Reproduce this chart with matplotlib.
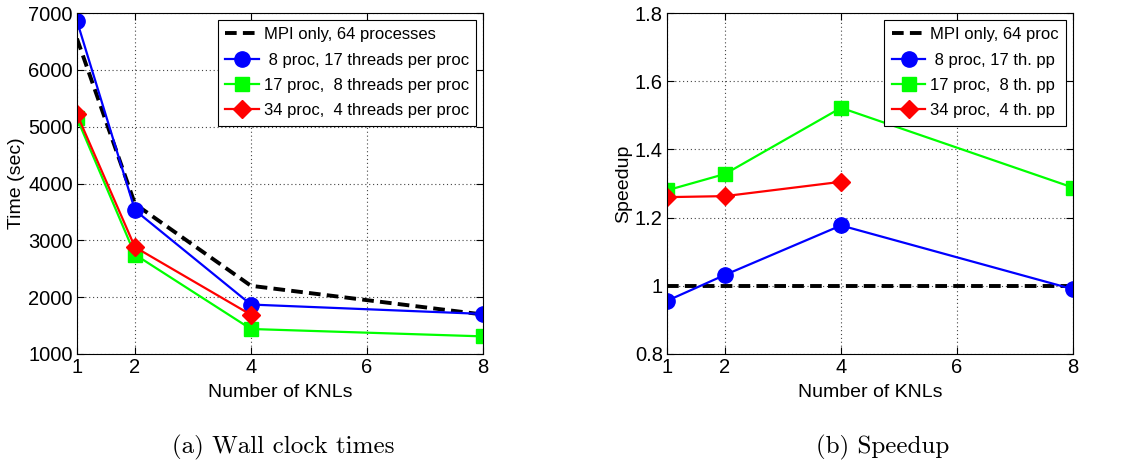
import matplotlib
matplotlib.use("Agg")
import matplotlib.pyplot as plt

# Number of KNL nodes
knls = [1, 2, 4, 8]
knls_red = [1, 2, 4]

# Wall clock times (sec)
t_mpi = [6550, 3640, 2200, 1695]
t_8p = [6860, 3530, 1870, 1705]
t_17p = [5150, 2750, 1440, 1310]
t_34p = [5220, 2880, 1690]

# Speedup over MPI only
s_mpi = [1.0, 1.0, 1.0, 1.0]
s_8p = [0.956, 1.032, 1.177, 0.99]
s_17p = [1.28, 1.328, 1.522, 1.288]
s_34p = [1.26, 1.263, 1.305]

labels_a = ["MPI only, 64 processes", " 8 proc, 17 threads per proc",
            "17 proc,  8 threads per proc", "34 proc,  4 threads per proc"]
labels_b = ["MPI only, 64 proc", " 8 proc, 17 th. pp",
            "17 proc,  8 th. pp", "34 proc,  4 th. pp"]

plt.rcParams['font.family'] = ['Liberation Sans', 'DejaVu Sans']
plt.rcParams['font.size'] = 14

fig = plt.figure(figsize=(11.3, 4.68), dpi=100)
ax1 = fig.add_axes([0.0681, 0.2436, 0.3593, 0.7286])
ax2 = fig.add_axes([0.5903, 0.2436, 0.3593, 0.7286])


def style(ax, ylim, yticks, yticklabels, ylabel):
    ax.set_xlim(1, 8)
    ax.set_ylim(*ylim)
    ax.set_xticks([1, 2, 4, 6, 8])
    ax.set_yticks(yticks)
    ax.set_yticklabels(yticklabels)
    ax.tick_params(direction='in', top=True, right=True, length=5,
                   labelsize=14.5, pad=3)
    ax.grid(True, linestyle=(0, (1, 2.5)), color='#444444', linewidth=0.8)
    ax.set_xlabel("Number of KNLs", fontsize=14, labelpad=5)
    ax.set_ylabel(ylabel, fontsize=14, labelpad=2)
    for s in ax.spines.values():
        s.set_linewidth(0.8)


def series(ax, ys, labels):
    mpi, p8, p17, p34 = ys
    ax.plot(knls, mpi, 'k--', lw=2.8, dashes=(3, 1.6), label=labels[0])
    ax.plot(knls, p8, '-o', color='blue', lw=1.6, ms=11, label=labels[1])
    ax.plot(knls, p17, '-s', color='#00ff00', lw=1.6, ms=10, label=labels[2])
    ax.plot(knls_red, p34, '-D', color='red', lw=1.6, ms=9, label=labels[3])
    leg = ax.legend(loc='upper right', fontsize=12, fancybox=False,
                    framealpha=1, edgecolor='black', borderpad=0.45,
                    labelspacing=0.62, handlelength=2.0, handletextpad=0.3,
                    borderaxespad=0.4)
    leg.get_frame().set_linewidth(0.8)


series(ax1, [t_mpi, t_8p, t_17p, t_34p], labels_a)
style(ax1, (1000, 7000), range(1000, 7001, 1000),
      [str(v) for v in range(1000, 7001, 1000)], "Time (sec)")

series(ax2, [s_mpi, s_8p, s_17p, s_34p], labels_b)
style(ax2, (0.8, 1.8), [0.8, 1.0, 1.2, 1.4, 1.6, 1.8],
      ["0.8", "1", "1.2", "1.4", "1.6", "1.8"], "Speedup")

fig.text(0.251, 0.043, "(a) Wall clock times", family='cmr10', fontsize=18,
         ha='center', va='center')
fig.text(0.781, 0.043, "(b) Speedup", family='cmr10', fontsize=18,
         ha='center', va='center')

fig.savefig("out.png", dpi=100)
